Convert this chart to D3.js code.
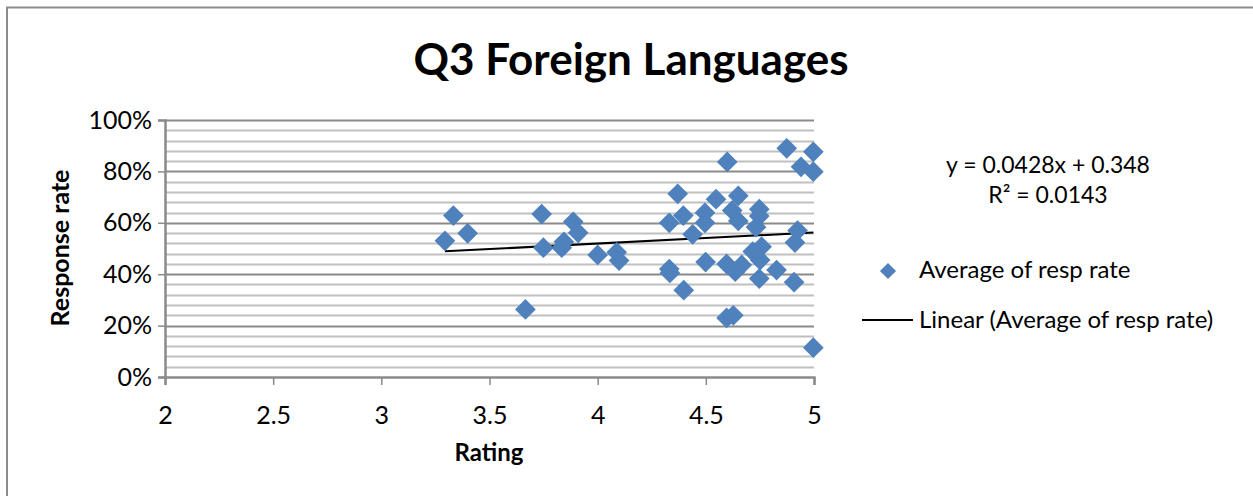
<!DOCTYPE html>
<html>
<head>
<meta charset="utf-8">
<script src="https://cdn.jsdelivr.net/npm/d3@7"></script>
<style>
  body { margin: 0; background: #fff; }
  svg { display: block; font-family: Lato, "Open Sans", sans-serif; }
</style>
</head>
<body>
<svg id="chart" width="1253" height="496"></svg>
<script>
"use strict";

// ratings (x) and average response rate (y)
const rating = [
  3.294, 3.333, 3.399, 3.666, 3.741, 3.749, 3.834, 3.844, 3.887, 3.910,
  4.000, 4.088, 4.099,
  4.331, 4.370, 4.396, 4.331, 4.334, 4.398, 4.439, 4.496, 4.496, 4.499,
  4.547, 4.599, 4.596, 4.636, 4.666, 4.596, 4.627, 4.650, 4.622, 4.650,
  4.747, 4.747, 4.732, 4.717, 4.758, 4.751, 4.747, 4.827, 4.908, 4.924,
  4.912, 4.874, 4.997, 4.940, 4.997, 4.997
];
const respRate = [
  0.530, 0.628, 0.559, 0.263, 0.634, 0.503, 0.503, 0.526, 0.604, 0.561,
  0.475, 0.485, 0.453,
  0.600, 0.713, 0.628, 0.420, 0.405, 0.338, 0.555, 0.639, 0.600, 0.447,
  0.692, 0.837, 0.440, 0.410, 0.436, 0.230, 0.240, 0.705, 0.648, 0.607,
  0.653, 0.626, 0.583, 0.488, 0.507, 0.455, 0.383, 0.416, 0.369, 0.570,
  0.523, 0.890, 0.876, 0.818, 0.799, 0.114
];

const slope = 0.0428, intercept = 0.348;
const eqLabels = ["y = 0.0428x + 0.348", "R² = 0.0143"];
const legendLabels = ["Average of resp rate", "Linear (Average of resp rate)"];
const xTicks = [2, 2.5, 3, 3.5, 4, 4.5, 5];
const yTicks = [0, 0.2, 0.4, 0.6, 0.8, 1];

const svg = d3.select('#chart');
const blue = '#4F81BD';

// outer frame, running off the bottom/right edge
svg.append('rect')
  .attr('x', 7).attr('y', 7.5)
  .attr('width', 1300).attr('height', 600)
  .attr('fill', 'none').attr('stroke', '#8c8c8c').attr('stroke-width', 2);

const x = d3.scaleLinear().domain([2, 5]).range([165, 814]);
const y = d3.scaleLinear().domain([0, 1]).range([377, 120]);

// minor gridlines every 4%
svg.append('g')
  .selectAll('line')
  .data(d3.range(0, 1.001, 0.04).filter(v => Math.round(v * 100) % 20 !== 0))
  .enter().append('line')
  .attr('x1', x(2)).attr('x2', x(5))
  .attr('y1', d => Math.round(y(d)) + 0.5).attr('y2', d => Math.round(y(d)) + 0.5)
  .attr('stroke', '#c0c0c0').attr('stroke-width', 2);

// major gridlines
svg.append('g')
  .selectAll('line')
  .data(yTicks.slice(1))
  .enter().append('line')
  .attr('x1', x(2)).attr('x2', x(5))
  .attr('y1', d => Math.round(y(d)) + 0.5).attr('y2', d => Math.round(y(d)) + 0.5)
  .attr('stroke', '#8a8a8a').attr('stroke-width', 2);

// axes
const yAxis = svg.append('g')
  .attr('transform', `translate(${x(2)},0)`)
  .call(d3.axisLeft(y).tickValues(yTicks).tickFormat(d3.format('.0%')).tickSizeOuter(0).tickSize(7).tickPadding(6));
const xAxis = svg.append('g')
  .attr('transform', `translate(0,${y(0)})`)
  .call(d3.axisBottom(x).tickValues(xTicks).tickFormat(d => d).tickSizeOuter(0).tickSize(8).tickPadding(21));

[yAxis, xAxis].forEach(a => {
  a.select('.domain').attr('stroke', '#8a8a8a').attr('stroke-width', 2.5);
  a.selectAll('.tick line').attr('stroke', '#8a8a8a').attr('stroke-width', 1.5);
  a.selectAll('.tick text').attr('fill', '#000').style('font-size', '25px')
    .style('font-family', 'Lato, "Open Sans", sans-serif');
});

// trendline
const trendX = d3.extent(rating);
svg.append('line')
  .attr('x1', x(trendX[0])).attr('y1', y(slope * trendX[0] + intercept))
  .attr('x2', x(trendX[1])).attr('y2', y(slope * trendX[1] + intercept))
  .attr('stroke', '#000').attr('stroke-width', 2);

// markers
const diamond = d3.symbol().type(d3.symbolSquare).size(215);
svg.append('g')
  .selectAll('path')
  .data(rating.map((r, i) => [r, respRate[i]]))
  .enter().append('path')
  .attr('d', diamond)
  .attr('transform', d => `translate(${x(d[0])},${y(d[1])}) rotate(45)`)
  .attr('fill', blue);

// titles
svg.append('text')
  .attr('x', 631).attr('y', 75)
  .attr('text-anchor', 'middle')
  .style('font-size', '44px').style('font-weight', 'bold')
  .text('Q3 Foreign Languages');

svg.append('text')
  .attr('x', 489).attr('y', 461)
  .attr('text-anchor', 'middle')
  .style('font-size', '24px').style('font-weight', 'bold')
  .text('Rating');

svg.append('text')
  .attr('transform', 'translate(69,248) rotate(-90)')
  .attr('text-anchor', 'middle')
  .style('font-size', '25px').style('font-weight', 'bold')
  .text('Response rate');

// equation
svg.append('g')
  .selectAll('text')
  .data(eqLabels)
  .enter().append('text')
  .attr('x', 1048).attr('y', (d, i) => 173 + i * 30)
  .attr('text-anchor', 'middle')
  .style('font-size', '23px')
  .text(d => d);

// legend
const legend = svg.append('g');
legend.append('path')
  .attr('d', d3.symbol().type(d3.symbolSquare).size(130))
  .attr('transform', 'translate(888,271) rotate(45)')
  .attr('fill', blue);
legend.append('line')
  .attr('x1', 862).attr('x2', 913)
  .attr('y1', 320).attr('y2', 320)
  .attr('stroke', '#000').attr('stroke-width', 2);
legend.selectAll('text')
  .data(legendLabels)
  .enter().append('text')
  .attr('x', 919).attr('y', (d, i) => 278 + i * 50)
  .style('font-size', '24px')
  .text(d => d);
</script>
</body>
</html>
